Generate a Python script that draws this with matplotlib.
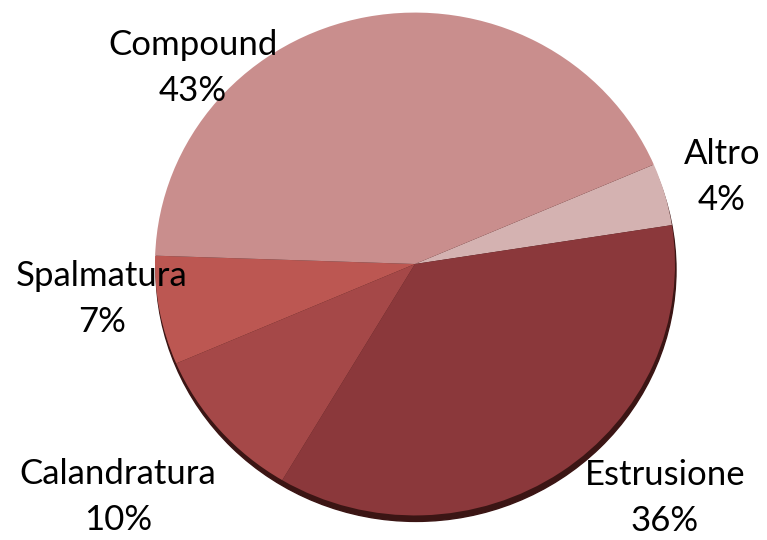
import matplotlib.pyplot as plt
from matplotlib.patches import Ellipse

labels = ["Altro", "Estrusione", "Calandratura", "Spalmatura", "Compound"]
shares = [4, 36, 10, 7, 43]
colors = ["#D4B2B1", "#8B383B", "#A54848", "#BC5752", "#C98E8D"]

# label anchor points (pixels from top-left of the image)
label_pos = {
    "Altro": (722, 177),
    "Estrusione": (665, 498),
    "Calandratura": (118, 497),
    "Spalmatura": (102, 299),
    "Compound": (193, 68),
}

W, H = 767, 540
sy = 0.967  # slight vertical squash of the pie
fig = plt.figure(figsize=(W / 100, H / 100), dpi=100)
ax = fig.add_axes([0, 0, 1, 1])

cx, cy, r = 415, (H - 264) / sy, 260

# dark rim under the pie
ax.add_patch(Ellipse((cx + 1, cy - 6 / sy), 2 * r, 2 * r, color="#3B1514", zorder=0))

ax.pie(
    shares,
    colors=colors,
    startangle=23.3,
    counterclock=False,
    center=(cx, cy),
    radius=r,
    frame=True,
    wedgeprops={"linewidth": 0},
)
ax.set_aspect("auto")
ax.set_xlim(0, W)
ax.set_ylim(0, H / sy)
ax.axis("off")

for lab, val in zip(labels, shares):
    x, y = label_pos[lab]
    ax.text(x, (H - y) / sy, f"{lab}\n{val}%", ha="center", va="center",
            fontsize=25, family="Lato", linespacing=1.55)

fig.savefig("out.png", dpi=100)
